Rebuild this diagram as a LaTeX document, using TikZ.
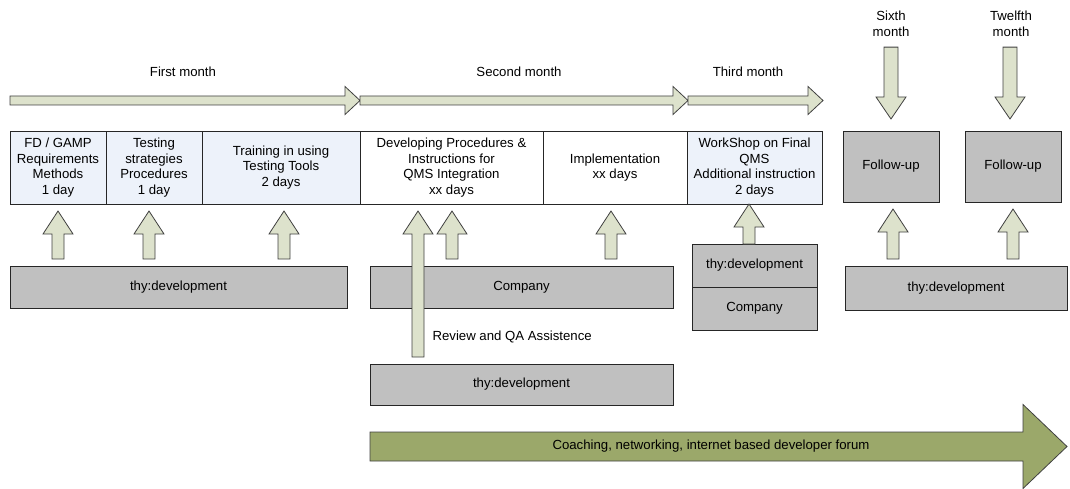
\documentclass[tikz,border=0pt]{standalone}
\usepackage{fontspec}
\setmainfont{Liberation Sans}
\usetikzlibrary{calc,positioning}
\definecolor{shaftfill}{RGB}{221,226,204}
\definecolor{phaseblue}{RGB}{237,242,250}
\definecolor{supportgrey}{RGB}{192,192,192}
\definecolor{forumgreen}{RGB}{155,168,106}
% block arrow: [fill]{from}{to}{shaft half width}{head half width}{head length}
\newcommand\blockarr[6][shaftfill]{%
  \coordinate (ba-s) at (#2);
  \coordinate (ba-t) at (#3);
  \coordinate (ba-h) at ($(ba-t)!#6!(ba-s)$);
  \draw[fill=#1, draw=black!75, line width=0.8pt]
    ($(ba-s)!#4!90:(ba-t)$) -- ($(ba-h)!#4!90:(ba-t)$) -- ($(ba-h)!#5!90:(ba-t)$) -- (ba-t)
    -- ($(ba-h)!#5!-90:(ba-t)$) -- ($(ba-h)!#4!-90:(ba-t)$) -- ($(ba-s)!#4!-90:(ba-t)$) -- cycle;}
\newcommand\liftarrow[4]{\blockarr{$(#2.north -| #1,0)+(0,-#4)$}{$(#3.south -| #1,0)+(0,#4)$}{6pt}{15pt}{23pt}}
\newcommand\dropper[3]{\blockarr{$(#2.south -| #1,0)+(0,7)$}{$(#3.north -| #1,0)+(0,-12)$}{7pt}{15pt}{22pt}}
\begin{document}
\begin{tikzpicture}[x=1pt, y=-1pt, font=\fontsize{13.2}{15.5}\selectfont]
      \tikzstyle{phase} = [rectangle, draw=black!85, line width=0.8pt, fill=phaseblue, minimum height=73, inner sep=1, outer sep=0, align=center]
      \tikzstyle{plain} = [phase, fill=white]
      \tikzstyle{support} = [rectangle, draw=black!85, line width=0.8pt, fill=supportgrey, inner sep=2, outer sep=0]

      \useasboundingbox (0,0) rectangle (1070,489);

      \node[phase, minimum width=96]                (fd) at (58,167.5) {FD / GAMP\\Requirements\\Methods\\1 day};
      \node[phase, minimum width=96,  right=0 of fd] (ts) {Testing\\strategies\\Procedures\\1 day};
      \node[phase, minimum width=158, right=0 of ts] (tr) {Training in using\\Testing Tools\\2 days};
      \node[plain, minimum width=183, right=0 of tr] (dp) {Developing Procedures \&\\Instructions for\\QMS Integration\\xx days};
      \node[plain, minimum width=144, right=0 of dp] (im) {Implementation\\xx days};
      \node[phase, minimum width=135, right=0 of im] (ws) {WorkShop on Final\\QMS\\Additional instruction\\2 days};

      \node[support, minimum width=96, minimum height=71] (fu6)  at (891,166.5)  {Follow-up};
      \node[support, minimum width=96, minimum height=71] (fu12) at (1013,166.5) {Follow-up};

      \node[support, minimum width=337, minimum height=42] (td1) at (178.5,287) {thy:development};
      \node[support, minimum width=303, minimum height=42] (co1) at (521.5,287) {Company};
      \node[support, minimum width=303, minimum height=41] (td2) at (521.5,384.5) {thy:development};
      \node[support, minimum width=125, minimum height=43] (td3) at (754.5,265.5) {thy:development};
      \node[support, minimum width=125, minimum height=43, below=0 of td3] (co2) {Company};
      \node[support, minimum width=222, minimum height=44] (td4) at (956,288) {thy:development};

      \node (first)  at (183,72) {First month};
      \node (second) at (519,72) {Second month};
      \node (third)  at (748,72) {Third month};
      \node[align=center] (sixth)   at (891,24)  {Sixth\\month};
      \node[align=center] (twelfth) at (1011,24) {Twelfth\\month};
      \node[anchor=west] (review) at (429,337) {Review and QA Assistence};

      % timeline
      \coordinate (t0) at (10,100.5);
      \coordinate (t1) at (360,100.5);
      \coordinate (t2) at (688,100.5);
      \coordinate (t3) at (823,100.5);
      \blockarr{t0}{t1}{4.5pt}{14pt}{15pt}
      \blockarr{t1}{t2}{4.5pt}{14pt}{15pt}
      \blockarr{t2}{t3}{4.5pt}{14pt}{15pt}

      \liftarrow{58}{td1}{fd}{7}
      \liftarrow{149}{td1}{ts}{7}
      \liftarrow{284}{td1}{tr}{7}
      \liftarrow{418}{td2}{dp}{7}
      \liftarrow{452}{co1}{dp}{7}
      \liftarrow{611}{co1}{im}{7}
      \liftarrow{749}{td3}{ws}{0}
      \liftarrow{893}{td4}{fu6}{7}
      \liftarrow{1013}{td4}{fu12}{7}
      \dropper{891}{sixth}{fu6}
      \dropper{1010}{twelfth}{fu12}

      \coordinate (f0) at (370,446.5);
      \coordinate (f1) at (1067,446.5);
      \blockarr[forumgreen]{f0}{f1}{14.5pt}{42pt}{44pt}
      \node (forum) at (711,446.5) {Coaching, networking, internet based developer forum};
\end{tikzpicture}
\end{document}
